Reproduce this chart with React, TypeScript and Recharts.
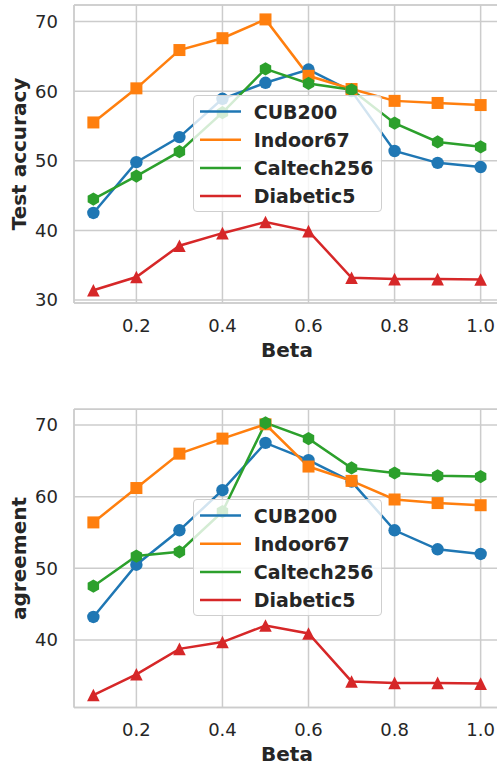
import React from "react";
import { LineChart, Line, XAxis, YAxis, CartesianGrid, ReferenceLine } from "recharts";

const betas = [0.1, 0.2, 0.3, 0.4, 0.5, 0.6, 0.7, 0.8, 0.9, 1.0];
const xTicks = [0.2, 0.4, 0.6, 0.8, 1.0];

// Top panel: Test accuracy
const accCUB200 = [42.5, 49.8, 53.4, 58.9, 61.2, 63.1, 60.0, 51.4, 49.7, 49.1];
const accIndoor67 = [55.5, 60.4, 65.9, 67.6, 70.3, 62.2, 60.3, 58.6, 58.3, 58.0];
const accCaltech256 = [44.5, 47.8, 51.3, 56.9, 63.2, 61.1, 60.2, 55.4, 52.7, 52.0];
const accDiabetic5 = [31.4, 33.3, 37.8, 39.6, 41.2, 39.9, 33.2, 33.0, 33.0, 32.95];
const accTicks = [30, 40, 50, 60, 70];

// Bottom panel: agreement
const agrCUB200 = [43.2, 50.5, 55.3, 60.9, 67.5, 65.1, 62.1, 55.3, 52.65, 52.0];
const agrIndoor67 = [56.4, 61.2, 66.0, 68.1, 70.1, 64.2, 62.2, 59.6, 59.1, 58.8];
const agrCaltech256 = [47.5, 51.7, 52.3, 57.9, 70.3, 68.1, 64.0, 63.3, 62.9, 62.8];
const agrDiabetic5 = [32.3, 35.2, 38.75, 39.7, 42.0, 40.9, 34.2, 34.0, 34.0, 33.9];
const agrTicks = [40, 50, 60, 70];

const seriesNames = ["CUB200", "Indoor67", "Caltech256", "Diabetic5"];
const seriesColors = ["#1f77b4", "#ff7f0e", "#2ca02c", "#d62728"];
const seriesShapes = ["circle", "square", "hexagon", "triangle"];

const accData = betas.map((b, i) => ({
  beta: b,
  CUB200: accCUB200[i],
  Indoor67: accIndoor67[i],
  Caltech256: accCaltech256[i],
  Diabetic5: accDiabetic5[i],
}));
const agrData = betas.map((b, i) => ({
  beta: b,
  CUB200: agrCUB200[i],
  Indoor67: agrIndoor67[i],
  Caltech256: agrCaltech256[i],
  Diabetic5: agrDiabetic5[i],
}));

const GRID = "#cccccc";
const TEXT = "#262626";
const FONT = "'DejaVu Sans', sans-serif";

function Marker({ cx, cy, shape, color }: any) {
  if (cx == null || cy == null) return null;
  if (shape === "circle") return <circle cx={cx} cy={cy} r={6.2} fill={color} />;
  if (shape === "square") {
    const h = 6;
    return <rect x={cx - h} y={cy - h} width={2 * h} height={2 * h} fill={color} />;
  }
  if (shape === "hexagon") {
    const r = 6.6;
    const pts = [0, 1, 2, 3, 4, 5]
      .map((k) => {
        const a = ((90 + k * 60) * Math.PI) / 180;
        return `${cx + r * Math.cos(a)},${cy - r * Math.sin(a)}`;
      })
      .join(" ");
    return <polygon points={pts} fill={color} />;
  }
  const h = 6.3;
  return (
    <polygon
      points={`${cx},${cy - h} ${cx - h},${cy + h} ${cx + h},${cy + h}`}
      fill={color}
    />
  );
}

function LegendBox({ left, top }: { left: number; top: number }) {
  return (
    <div
      style={{
        position: "absolute",
        left,
        top,
        width: 189,
        height: 117,
        background: "rgba(255,255,255,0.8)",
        border: "1px solid #cfcfcf",
        borderRadius: 4,
        boxSizing: "border-box",
        fontFamily: FONT,
        fontWeight: "bold",
        fontSize: 19,
        color: TEXT,
      }}
    >
      <svg
        width={60}
        height={115}
        style={{ position: "absolute", left: 0, top: 0 }}
      >
        {seriesNames.map((name, i) => (
          <line
            key={name}
            x1={6}
            x2={47}
            y1={15.5 + i * 28.2}
            y2={15.5 + i * 28.2}
            stroke={seriesColors[i]}
            strokeWidth={2.5}
          />
        ))}
      </svg>
      {seriesNames.map((name, i) => (
        <div
          key={name}
          style={{
            position: "absolute",
            left: 60,
            top: 1.5 + i * 28.2,
            height: 28,
            lineHeight: "28px",
            whiteSpace: "nowrap",
          }}
        >
          {name}
        </div>
      ))}
    </div>
  );
}

function Panel({
  data,
  ticks,
  domain,
  ylabel,
  height,
  marginTop,
  xAxisHeight,
}: any) {
  const xLabel = (props: any) => {
    const vb = props.viewBox;
    return (
      <text
        x={vb.x + vb.width / 2}
        y={vb.y + 53.8}
        textAnchor="middle"
        fontFamily={FONT}
        fontWeight="bold"
        fontSize={20}
        fill={TEXT}
      >
        Beta
      </text>
    );
  };
  const yLabel = (props: any) => {
    const vb = props.viewBox;
    const cy = vb.y + vb.height / 2;
    const cx = 19;
    return (
      <text
        x={cx}
        y={cy}
        dy="0.35em"
        transform={`rotate(-90, ${cx}, ${cy})`}
        textAnchor="middle"
        fontFamily={FONT}
        fontWeight="bold"
        fontSize={20}
        fill={TEXT}
      >
        {ylabel}
      </text>
    );
  };
  return (
    <LineChart
      width={510}
      height={height}
      data={data}
      margin={{ top: marginTop, right: 10, bottom: 0, left: 14 }}
    >
      <CartesianGrid stroke={GRID} strokeWidth={1.5} />
      <XAxis
        dataKey="beta"
        type="number"
        domain={[0.055, 1.045]}
        ticks={xTicks}
        tickFormatter={(v: number) => v.toFixed(1)}
        height={xAxisHeight}
        tickLine={false}
        tickSize={0}
        tickMargin={16}
        axisLine={{ stroke: GRID, strokeWidth: 1.5 }}
        tick={{ fill: TEXT, fontSize: 18, fontFamily: FONT }}
        label={xLabel}
        allowDataOverflow
      />
      <YAxis
        type="number"
        domain={domain}
        ticks={ticks}
        width={60}
        tickLine={false}
        tickSize={0}
        tickMargin={16}
        axisLine={{ stroke: GRID, strokeWidth: 1.5 }}
        tick={{ fill: TEXT, fontSize: 18, fontFamily: FONT }}
        label={yLabel}
        allowDataOverflow
      />
      <ReferenceLine y={domain[1]} stroke={GRID} strokeWidth={1.5} ifOverflow="visible" />
      {seriesNames.map((name, i) => (
        <Line
          key={name}
          dataKey={name}
          type="linear"
          stroke={seriesColors[i]}
          strokeWidth={2.5}
          isAnimationActive={false}
          activeDot={false}
          dot={(p: any) => (
            <Marker
              key={`${name}-${p.index}`}
              cx={p.cx}
              cy={p.cy}
              shape={seriesShapes[i]}
              color={seriesColors[i]}
            />
          )}
        />
      ))}
    </LineChart>
  );
}

export default function App() {
  return (
    <div
      style={{
        position: "fixed",
        left: 0,
        top: 0,
        width: 497,
        height: 765,
        overflow: "hidden",
        background: "#ffffff",
      }}
    >
      <div style={{ position: "absolute", left: 0, top: 0 }}>
        <Panel
          data={accData}
          ticks={accTicks}
          domain={[29.57, 72.37]}
          ylabel="Test accuracy"
          height={370}
          marginTop={5}
          xAxisHeight={67}
        />
      </div>
      <LegendBox left={192.7} top={95} />
      <div style={{ position: "absolute", left: 0, top: 400 }}>
        <Panel
          data={agrData}
          ticks={agrTicks}
          domain={[30.55, 72.19]}
          ylabel="agreement"
          height={365}
          marginTop={9.3}
          xAxisHeight={57.4}
        />
      </div>
      <LegendBox left={192.7} top={499.3} />
    </div>
  );
}
